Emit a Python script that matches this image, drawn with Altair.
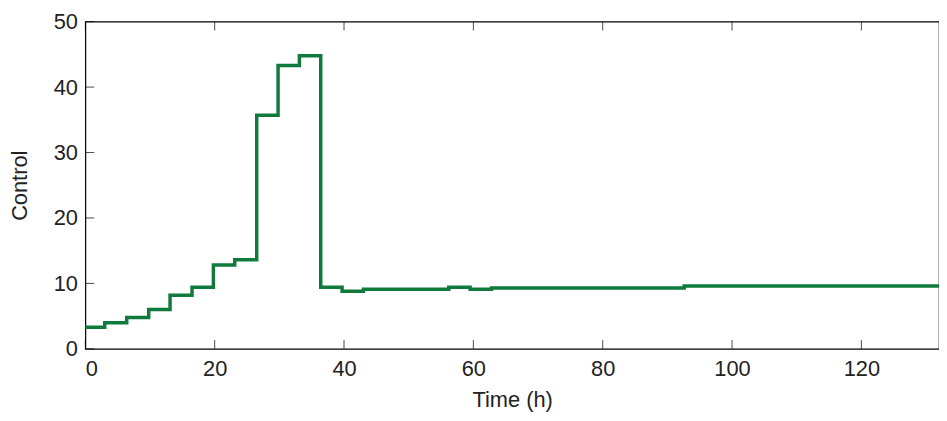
import altair as alt
import pandas as pd

time_h = [0, 3.0, 6.4, 9.8, 13.1, 16.5, 19.8, 23.1, 26.5, 29.8, 33.1, 36.4, 39.7, 43.0, 56.2, 59.5, 62.8, 92.6, 134]
control = [3.3, 4.0, 4.8, 6.0, 8.2, 9.4, 12.8, 13.6, 35.7, 43.3, 44.8, 9.4, 8.8, 9.1, 9.4, 9.1, 9.3, 9.6, 9.6]
xticks = [0, 20, 40, 60, 80, 100, 120]
yticks = [0, 10, 20, 30, 40, 50]

df = pd.DataFrame({"t": time_h, "c": control})
xs = alt.Scale(domain=[0, 132], nice=False)
ys = alt.Scale(domain=[0, 50], nice=False)

line = alt.Chart(df).mark_line(interpolate="step-after", color="#0f7a3c", strokeWidth=3.5).encode(
    x=alt.X("t:Q", scale=xs, title="Time (h)",
            axis=alt.Axis(values=xticks, ticks=False, labelPadding=10, titlePadding=10, grid=False, domain=False)),
    y=alt.Y("c:Q", scale=ys, title="Control",
            axis=alt.Axis(values=yticks, ticks=False, labelPadding=8, titlePadding=22, grid=False, domain=False)),
)

tx = pd.DataFrame({"t": xticks})
ty = pd.DataFrame({"c": yticks})
tk = dict(color="black", thickness=1, size=9)
tb = alt.Chart(tx).mark_tick(yOffset=-4.5, **tk).encode(x=alt.X("t:Q", scale=xs), y=alt.value(330))
tt = alt.Chart(tx).mark_tick(yOffset=4.5, **tk).encode(x=alt.X("t:Q", scale=xs), y=alt.value(0))
tl = alt.Chart(ty).mark_tick(xOffset=4.5, **tk).encode(y=alt.Y("c:Q", scale=ys), x=alt.value(0))

chart = alt.layer(line, tb, tt, tl).properties(
    width=861, height=330,
    autosize=alt.AutoSizeParams(type="none"),
    padding={"left": 78, "top": 12, "right": 0, "bottom": 70},
).configure_view(stroke="black", strokeWidth=1.2).configure_axis(
    labelFont="Liberation Sans", titleFont="Liberation Sans", labelFontSize=22, titleFontSize=22,
    titleFontWeight="normal", labelColor="#222", titleColor="#222",
)

chart.save("out.html", embed_options={"renderer": "svg", "actions": False})
